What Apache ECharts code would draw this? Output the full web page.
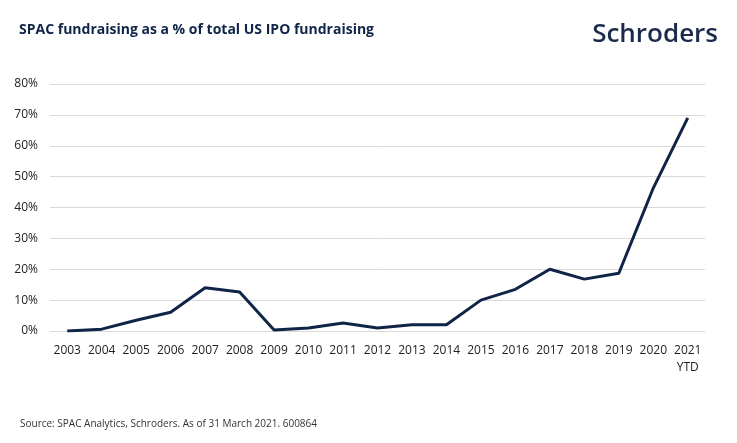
<!DOCTYPE html>
<html>
<head>
<meta charset="utf-8">
<script src="https://cdn.jsdelivr.net/npm/echarts@6/dist/echarts.min.js"></script>
<style>
html,body{margin:0;padding:0;background:#fff;}
#main{width:737px;height:443px;}
</style>
</head>
<body>
<div id="main"></div>
<script>
var years=['2003','2004','2005','2006','2007','2008','2009','2010','2011','2012','2013','2014','2015','2016','2017','2018','2019','2020','2021\nYTD'];
var spacShare=[0,0.6,3.5,6.1,14,12.6,0.3,1.0,2.6,1.0,2.0,2.0,10,13.5,20,16.8,18.7,46.3,69];
var yTicks=[0,10,20,30,40,50,60,70,80];

var myChart=echarts.init(document.getElementById('main'));
var option={
    animation:false,
    textStyle:{fontFamily:'Open Sans'},
    title:[{
        text:'SPAC fundraising as a % of total US IPO fundraising',
        left:14,
        top:18,
        textStyle:{fontFamily:'Open Sans',fontSize:14,fontWeight:'bold',color:'#0f2447'}
    },{
        text:'Schroders',
        right:14,
        top:17,
        textStyle:{fontFamily:'Open Sans',fontSize:26,fontWeight:600,color:'#1b2a4d'}
    },{
        text:'Source: SPAC Analytics, Schroders. As of 31 March 2021. 600864',
        left:15,
        top:414,
        textStyle:{fontFamily:'Open Sans',fontSize:10,fontWeight:'normal',color:'#333'}
    }],
    grid:{left:50,right:32,top:84,bottom:112},
    xAxis:{
        type:'category',
        data:years,
        boundaryGap:true,
        axisLine:{show:false},
        axisTick:{show:false},
        axisLabel:{color:'#222',fontSize:12,margin:11,lineHeight:17,interval:0}
    },
    yAxis:{
        type:'value',
        min:yTicks[0],
        max:yTicks[yTicks.length-1],
        interval:10,
        axisLabel:{color:'#222',fontSize:12,margin:12,formatter:'{value}%'},
        splitLine:{lineStyle:{color:'#d9d9d9',width:1}}
    },
    series:[{
        type:'line',
        data:spacShare,
        symbol:'none',
        lineStyle:{color:'#0f2447',width:3}
    }]
};
myChart.setOption(option);
</script>
</body>
</html>
